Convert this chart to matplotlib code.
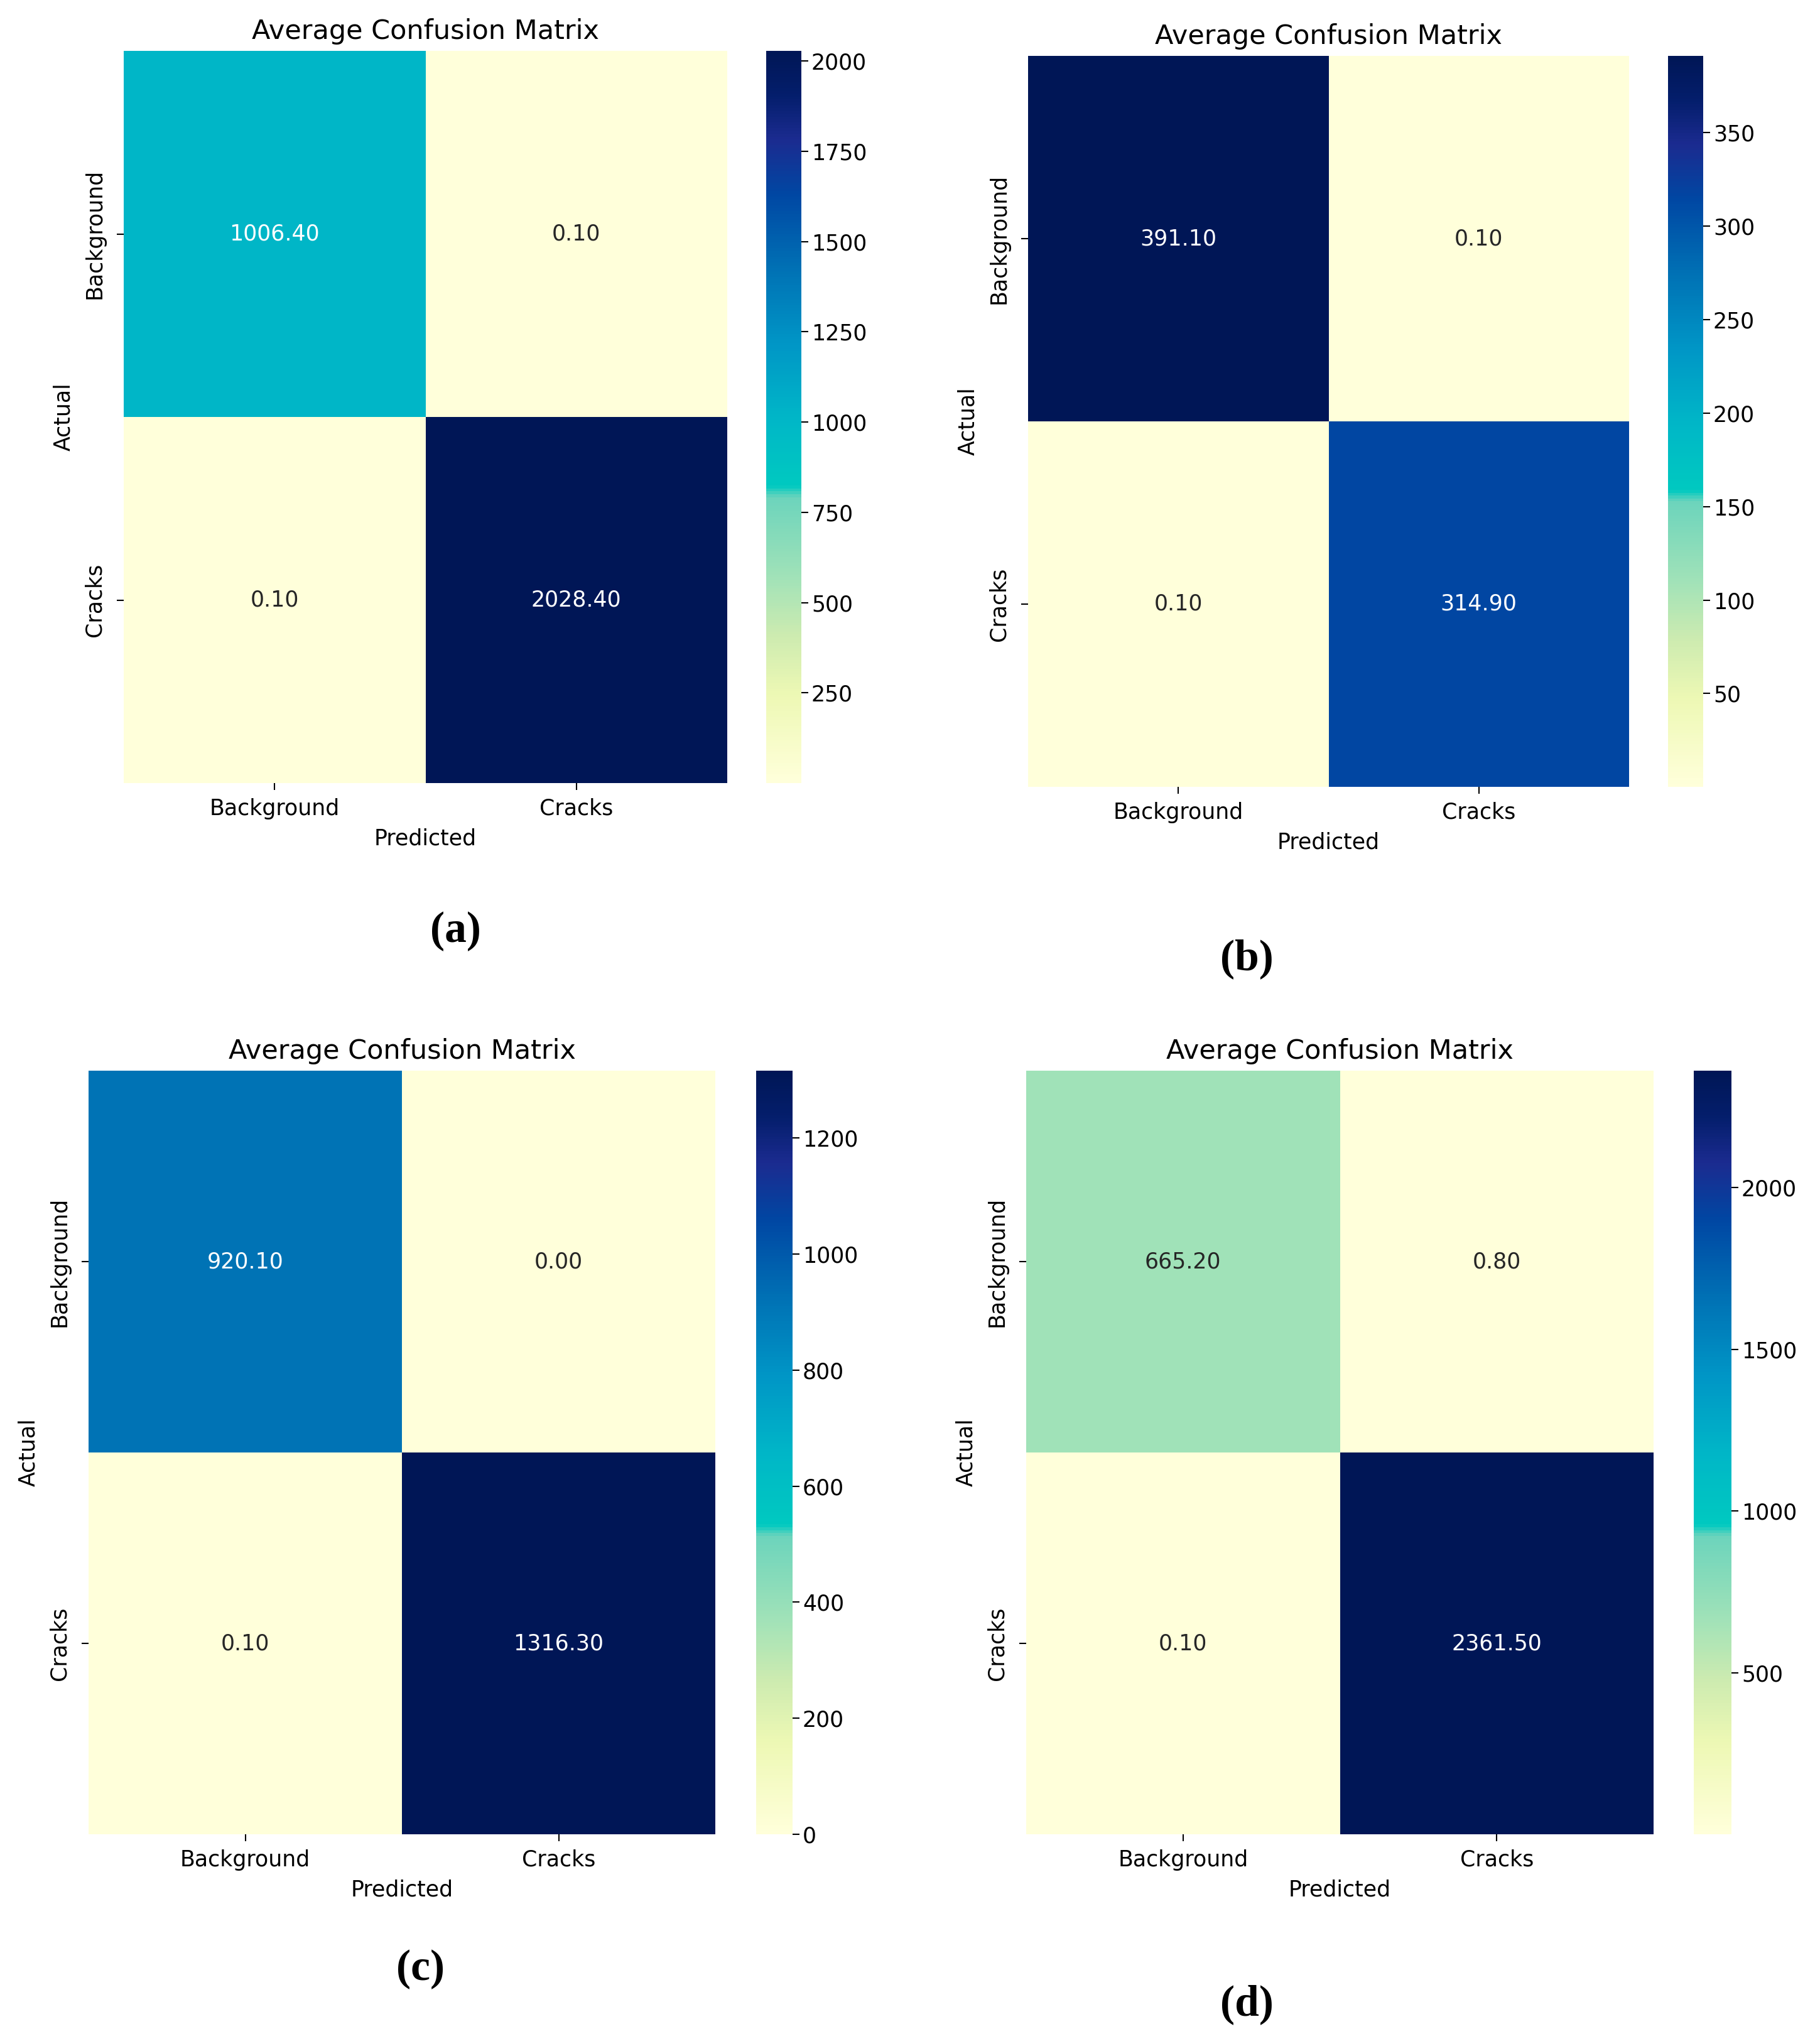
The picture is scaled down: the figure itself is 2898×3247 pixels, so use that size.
"""Four averaged confusion matrices (background vs cracks), 2x2 panel figure."""
import matplotlib

matplotlib.use("Agg")
import matplotlib.pyplot as plt
import numpy as np
import seaborn as sns
from matplotlib.colors import LinearSegmentedColormap

classes = ["Background", "Cracks"]
panel_labels = ["(a)", "(b)", "(c)", "(d)"]

cm_a = [[1006.40, 0.10], [0.10, 2028.40]]
cm_b = [[391.10, 0.10], [0.10, 314.90]]
cm_c = [[920.10, 0.00], [0.10, 1316.30]]
cm_d = [[665.20, 0.80], [0.10, 2361.50]]

ticks_a = [250, 500, 750, 1000, 1250, 1500, 1750, 2000]
ticks_b = [50, 100, 150, 200, 250, 300, 350]
ticks_c = [0, 200, 400, 600, 800, 1000, 1200]
ticks_d = [500, 1000, 1500, 2000]

# YlGnBu as it looks in the (colour boosted) source figure
cmap = LinearSegmentedColormap.from_list("ylgnbu_sat", [
    (0.00, "#ffffda"), (0.12, "#edf8b4"), (0.20, "#cdebb0"),
    (0.282, "#a0e2b8"), (0.39, "#6cd4bc"), (0.405, "#00c9c0"),
    (0.496, "#00b7c7"), (0.60, "#0096c6"), (0.70, "#0072b5"),
    (0.805, "#0047a3"), (0.88, "#1b2b90"), (0.94, "#041e6c"),
    (1.00, "#001656"),
])

W, H = 2898, 3247
DPI = 100

# pixel boxes (left, top, right, bottom) for heatmap, colorbar; label position
layout = [
    ((197, 81, 1158, 1247), (1220, 81, 1276, 1247), (725, 1483)),
    ((1637, 89, 2594, 1253), (2656, 89, 2712, 1253), (1985, 1527)),
    ((141, 1705, 1139, 2921), (1204, 1705, 1262, 2921), (669, 3136)),
    ((1634, 1705, 2633, 2921), (2697, 1705, 2757, 2921), (1985, 3192)),
]


def box(l, t, r, b):
    return [l / W, 1 - b / H, (r - l) / W, (b - t) / H]


fig = plt.figure(figsize=(W / DPI, H / DPI), dpi=DPI)
plt.rcParams["font.family"] = ["DejaVu Sans"]

mats = [cm_a, cm_b, cm_c, cm_d]
ticks = [ticks_a, ticks_b, ticks_c, ticks_d]

for cm, tk, lab, (hb, cb, lp) in zip(mats, ticks, panel_labels, layout):
    ax = fig.add_axes(box(*hb))
    cax = fig.add_axes(box(*cb))
    sns.heatmap(np.array(cm), annot=True, fmt=".2f", cmap=cmap,
                xticklabels=classes, yticklabels=classes, ax=ax, cbar_ax=cax,
                annot_kws={"fontsize": 25})
    ax.set_title("Average Confusion Matrix", fontsize=31, pad=14)
    ax.set_xlabel("Predicted", fontsize=25, labelpad=10)
    ax.set_ylabel("Actual", fontsize=25, labelpad=11)
    ax.tick_params(labelsize=25, length=8, width=1.5)
    ax.tick_params(axis="x", pad=9)
    ax.tick_params(axis="y", pad=13)
    plt.setp(ax.get_yticklabels(), rotation=90, va="center")
    plt.setp(ax.get_xticklabels(), rotation=0)
    cax.set_yticks(tk)
    cax.tick_params(labelsize=25, length=8, width=1.5)
    fig.text(lp[0] / W, 1 - lp[1] / H, lab, ha="center", va="center",
             fontsize=50, fontweight="bold", family=["Liberation Serif", "DejaVu Serif"])

fig.savefig("out.png", dpi=DPI)
plt.close(fig)
